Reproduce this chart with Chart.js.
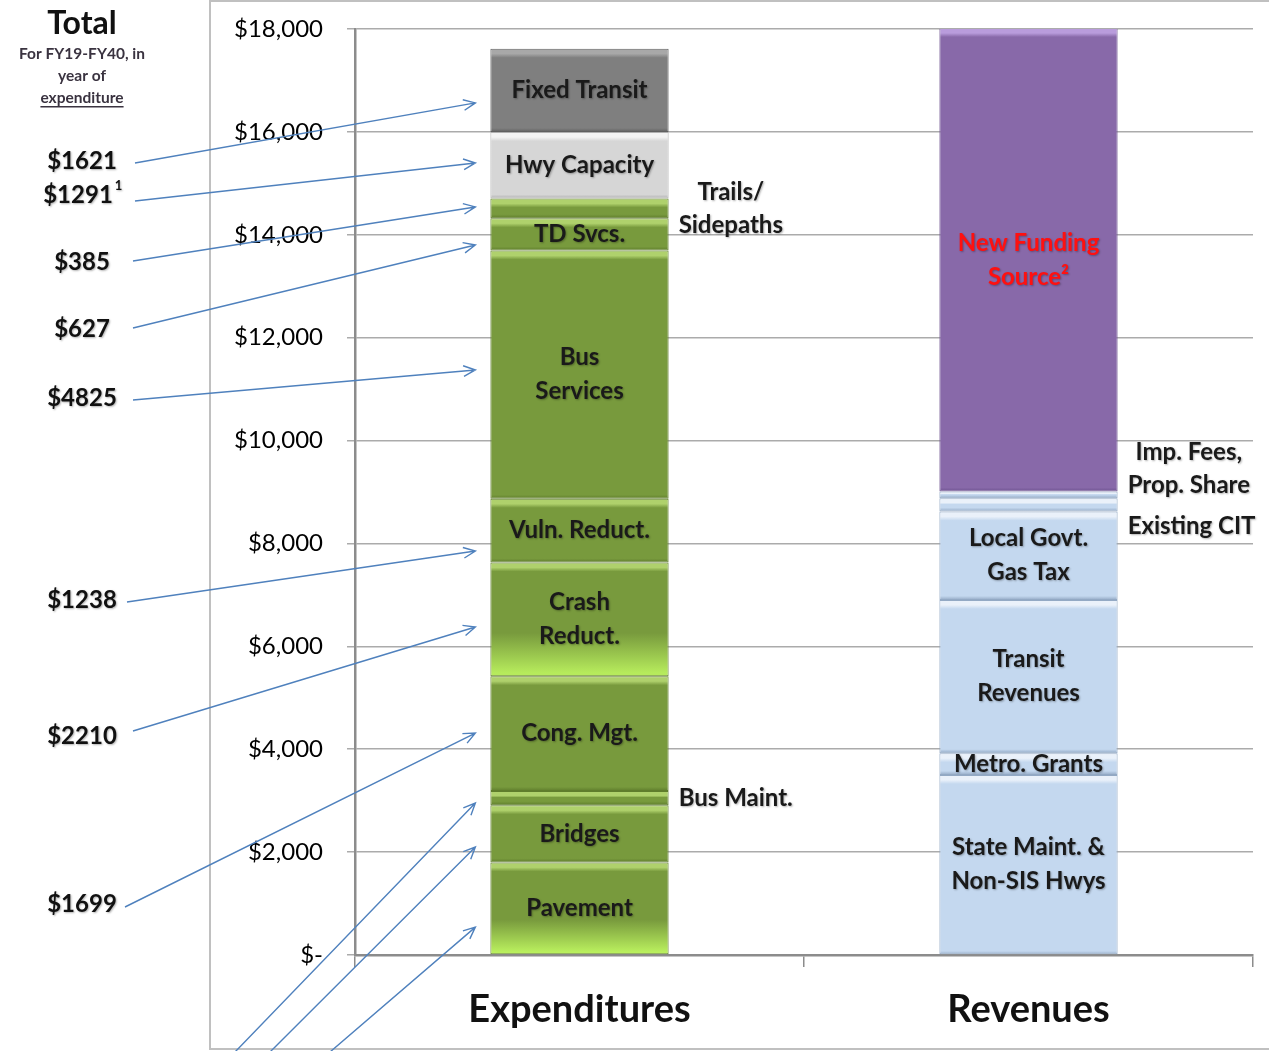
<!DOCTYPE html>
<html>
<head>
<meta charset="utf-8">
<script src="https://cdn.jsdelivr.net/npm/chart.js@4.4.1/dist/chart.umd.min.js"></script>
<style>
  html, body { margin: 0; padding: 0; background: #fff; overflow: hidden; }
  #wrap { width: 1269px; height: 1051px; position: relative; }
</style>
</head>
<body>
<div id="wrap"><canvas id="chart"></canvas></div>
<script>
const categories = ['Expenditures', 'Revenues'];

// expenditures, bottom to top ($ millions)
const expenditureNames = ['Pavement', 'Bridges', 'Bus Maint.', 'Cong. Mgt.', 'Crash Reduct.', 'Vuln. Reduct.',
  'Bus Services', 'TD Svcs.', 'Trails/Sidepaths', 'Hwy Capacity', 'Fixed Transit'];
const expenditureValues = [1800, 1110, 280, 2230, 2210, 1238, 4825, 627, 385, 1291, 1621];

// revenues, bottom to top
const revenueNames = ['State Maint. & Non-SIS Hwys', 'Metro. Grants', 'Transit Revenues', 'Local Govt. Gas Tax',
  'Existing CIT', 'Imp. Fees, Prop. Share', 'New Funding Source²'];
const revenueValues = [3500, 422, 2980, 1717, 260, 130, 9010];

const yTicks = [0, 2000, 4000, 6000, 8000, 10000, 12000, 14000, 16000, 18000];
const yTickLabels = ['$-', '$2,000', '$4,000', '$6,000', '$8,000', '$10,000', '$12,000', '$14,000', '$16,000', '$18,000'];

// totals written on the left, top to bottom
const totalLabels = ['$1621', '$1291', '$385', '$627', '$4825', '$1238', '$2210', '$1699'];

const FONT = 'Lato, "Open Sans", sans-serif';

// text drawn inside each segment
const barText = {
  'Pavement': ['Pavement'],
  'Bridges': ['Bridges'],
  'Cong. Mgt.': ['Cong. Mgt.'],
  'Crash Reduct.': ['Crash', 'Reduct.'],
  'Vuln. Reduct.': ['Vuln. Reduct.'],
  'Bus Services': ['Bus', 'Services'],
  'TD Svcs.': ['TD Svcs.'],
  'Hwy Capacity': ['Hwy Capacity'],
  'Fixed Transit': ['Fixed Transit'],
  'State Maint. & Non-SIS Hwys': ['State Maint. &', 'Non-SIS Hwys'],
  'Metro. Grants': ['Metro. Grants'],
  'Transit Revenues': ['Transit', 'Revenues'],
  'Local Govt. Gas Tax': ['Local Govt.', 'Gas Tax'],
  'New Funding Source²': ['New Funding', 'Source²']
};
// text placed to the right of thin segments
const sideText = {
  'Bus Maint.': { lines: ['Bus Maint.'], dy: 0 },
  'Trails/Sidepaths': { lines: ['Trails/', 'Sidepaths'], dy: 0 },
  'Existing CIT': { lines: ['Existing CIT'], dy: 21 },
  'Imp. Fees, Prop. Share': { lines: ['Imp. Fees,', 'Prop. Share'], dy: -26 }
};

const green = { base: '#789A3D', hi: '#AFD16C', dark: '#5F7D2C' };
const styles = {
  'Fixed Transit': { base: '#7F7F7F', hi: '#A8A8A8', dark: '#606060' },
  'Hwy Capacity': { base: '#D6D6D6', hi: '#F4F4F4', dark: '#B0B0B0' },
  'Crash Reduct.': Object.assign({ glow: '#B6EB5C' }, green),
  'Pavement': Object.assign({ glow: '#BAF05E' }, green),
  'New Funding Source²': { base: '#8869A9', hi: '#B99CDC', dark: '#6E5290' }
};
const blue = { base: '#C4D8EF', hi: '#EAF1FA', dark: '#93A9C4' };

// callouts: label, where the arrow starts, and the value it points at
const callouts = [
  { text: totalLabels[0], y: 161, from: [135, 163], to: 16563 },
  { text: totalLabels[1], sup: '1', y: 195, from: [135, 201], to: 15396 },
  { text: totalLabels[2], y: 262, from: [133, 261], to: 14541 },
  { text: totalLabels[3], y: 329, from: [133, 328], to: 13802 },
  { text: totalLabels[4], y: 398, from: [133, 400], to: 11372 },
  { text: totalLabels[5], y: 600, from: [127, 602], to: 7853 },
  { text: totalLabels[6], y: 736, from: [133, 731], to: 6375 },
  { text: totalLabels[7], y: 904, from: [125, 907], to: 4314 },
  { from: [235, 1052], to: 2953 },
  { from: [270, 1052], to: 2098 },
  { from: [330, 1052], to: 542 }
];

function makeDatasets() {
  const sets = [];
  function add(names, values, col) {
    let lo = 0;
    names.forEach((name, i) => {
      const v = values[i];
      const st = styles[name] || (col === 0 ? green : blue);
      const from = lo, to = lo + v;
      const data = col === 0 ? [v, null] : [null, v];
      sets.push({
        label: name,
        data: data,
        borderColor: st.dark,
        borderWidth: 1,
        borderSkipped: false,
        backgroundColor: function(ctx) {
          const chart = ctx.chart;
          if (!chart.chartArea) return st.base;
          const y = chart.scales.y;
          const top = y.getPixelForValue(to), bot = y.getPixelForValue(from);
          const h = Math.max(bot - top, 1);
          const g = chart.ctx.createLinearGradient(0, top, 0, bot);
          const e = Math.min(5 / h, 0.35);
          g.addColorStop(0, st.hi);
          g.addColorStop(e, st.hi);
          g.addColorStop(Math.min(e * 1.8, 0.45), st.base);
          if (st.glow) {
            g.addColorStop(0.62, st.base);
            g.addColorStop(0.97, st.glow);
            g.addColorStop(1, st.glow);
          } else {
            g.addColorStop(Math.max(1 - 4 / h, 0.5), st.base);
            g.addColorStop(1, st.dark);
          }
          return g;
        }
      });
      lo = to;
    });
  }
  add(expenditureNames, expenditureValues, 0);
  add(revenueNames, revenueValues, 1);
  return sets;
}

function drawLines(c, lines, x, yc, lh) {
  const n = lines.length;
  lines.forEach((t, k) => {
    c.fillText(t, x, yc + (k - (n - 1) / 2) * lh);
  });
}

function arrow(c, x0, y0, x1, y1) {
  c.beginPath();
  c.moveTo(x0, y0);
  c.lineTo(x1, y1);
  const a = Math.atan2(y1 - y0, x1 - x0);
  const L = 13, w = 0.42;
  c.moveTo(x1 - L * Math.cos(a - w), y1 - L * Math.sin(a - w));
  c.lineTo(x1, y1);
  c.lineTo(x1 - L * Math.cos(a + w), y1 - L * Math.sin(a + w));
  c.stroke();
}

const decor = {
  id: 'decor',
  beforeDraw(chart) {
    const c = chart.ctx;
    c.save();
    c.strokeStyle = '#C0C0C0';
    c.lineWidth = 2;
    c.beginPath();
    c.moveTo(1269, 1);
    c.lineTo(210, 1);
    c.lineTo(210, 1049);
    c.lineTo(1269, 1049);
    c.stroke();
    c.restore();
  },
  afterDraw(chart) {
    const c = chart.ctx;
    const y = chart.scales.y;
    c.save();

    // header on the left
    c.fillStyle = '#111';
    c.textAlign = 'center';
    c.textBaseline = 'middle';
    c.font = 'bold 32px ' + FONT;
    c.fillText('Total', 82, 24);
    c.fillStyle = '#3a3340';
    c.font = 'bold 15.5px ' + FONT;
    c.fillText('For FY19-FY40, in', 82, 54);
    c.fillText('year of', 82, 76);
    c.fillText('expenditure', 82, 98);
    const uw = c.measureText('expenditure').width;
    c.fillRect(82 - uw / 2, 106, uw, 1.5);

    // segment labels
    const metas = chart.getSortedVisibleDatasetMetas();
    let barLeft = 490;
    c.shadowColor = 'rgba(0,0,0,0.3)';
    c.shadowBlur = 2;
    c.shadowOffsetX = 1;
    c.shadowOffsetY = 1;
    metas.forEach(meta => {
      const ds = chart.data.datasets[meta.index];
      const col = ds.data[0] != null ? 0 : 1;
      const el = meta.data[col];
      if (!el) return;
      const p = el.getProps(['x', 'y', 'base', 'width'], true);
      const yc = (p.y + p.base) / 2;
      if (col === 0) barLeft = p.x - p.width / 2;
      const inner = barText[ds.label];
      if (inner) {
        c.font = 'bold 24px ' + FONT;
        c.fillStyle = ds.label === 'New Funding Source²' ? '#FF1010' : '#1a1a1a';
        c.textAlign = 'center';
        drawLines(c, inner, p.x, yc, 34);
      }
      const side = sideText[ds.label];
      if (side) {
        c.font = 'bold 24px ' + FONT;
        c.fillStyle = '#1a1a1a';
        c.textAlign = 'center';
        let mw = 0;
        side.lines.forEach(t => { mw = Math.max(mw, c.measureText(t).width); });
        drawLines(c, side.lines, p.x + p.width / 2 + 10 + mw / 2, yc + side.dy, 33);
      }
    });

    // totals on the left
    c.font = 'bold 24px ' + FONT;
    c.fillStyle = '#111';
    callouts.forEach(o => {
      if (!o.text) return;
      if (o.sup) {
        c.textAlign = 'center';
        c.fillText(o.text, 78, o.y);
        const w = c.measureText(o.text).width;
        c.font = 'bold 13px ' + FONT;
        c.textAlign = 'left';
        c.fillText(o.sup, 78 + w / 2 + 2, o.y - 9);
        c.font = 'bold 24px ' + FONT;
      } else {
        c.textAlign = 'center';
        c.fillText(o.text, 82, o.y);
      }
    });

    // arrows
    c.shadowColor = 'transparent';
    c.strokeStyle = '#4F81BD';
    c.lineWidth = 1.4;
    callouts.forEach(o => {
      arrow(c, o.from[0], o.from[1], barLeft - 15, y.getPixelForValue(o.to));
    });
    c.restore();
  }
};

new Chart(document.getElementById('chart'), {
  type: 'bar',
  data: { labels: categories, datasets: makeDatasets() },
  options: {
    responsive: true,
    maintainAspectRatio: false,
    animation: false,
    layout: { padding: { top: 29, right: 16, left: 0, bottom: 0 } },
    datasets: { bar: { barPercentage: 0.397, categoryPercentage: 1 } },
    plugins: { legend: { display: false }, tooltip: { enabled: false } },
    scales: {
      x: {
        stacked: true,
        grid: { offset: true, drawOnChartArea: false, tickLength: 12, color: '#8C8C8C', lineWidth: 1.5 },
        border: { color: '#8C8C8C', width: 2.5 },
        ticks: { font: { family: FONT, size: 38, weight: 'bold' }, color: '#111', padding: 20 },
        afterFit: s => { s.height = 96; s.paddingLeft = 0; s.paddingRight = 0; }
      },
      y: {
        stacked: true,
        min: 0,
        max: 18000,
        afterBuildTicks: s => { s.ticks = yTicks.map(v => ({ value: v })); },
        ticks: {
          font: { family: FONT, size: 24 },
          color: '#000',
          padding: 24,
          callback: v => yTickLabels[yTicks.indexOf(v)]
        },
        grid: { color: '#ABABAB', lineWidth: 1.5, tickLength: 8 },
        border: { color: '#8C8C8C', width: 2.5 },
        afterFit: s => { s.width = 355; s.paddingTop = 0; s.paddingBottom = 0; }
      }
    }
  },
  plugins: [decor]
});
</script>
</body>
</html>
